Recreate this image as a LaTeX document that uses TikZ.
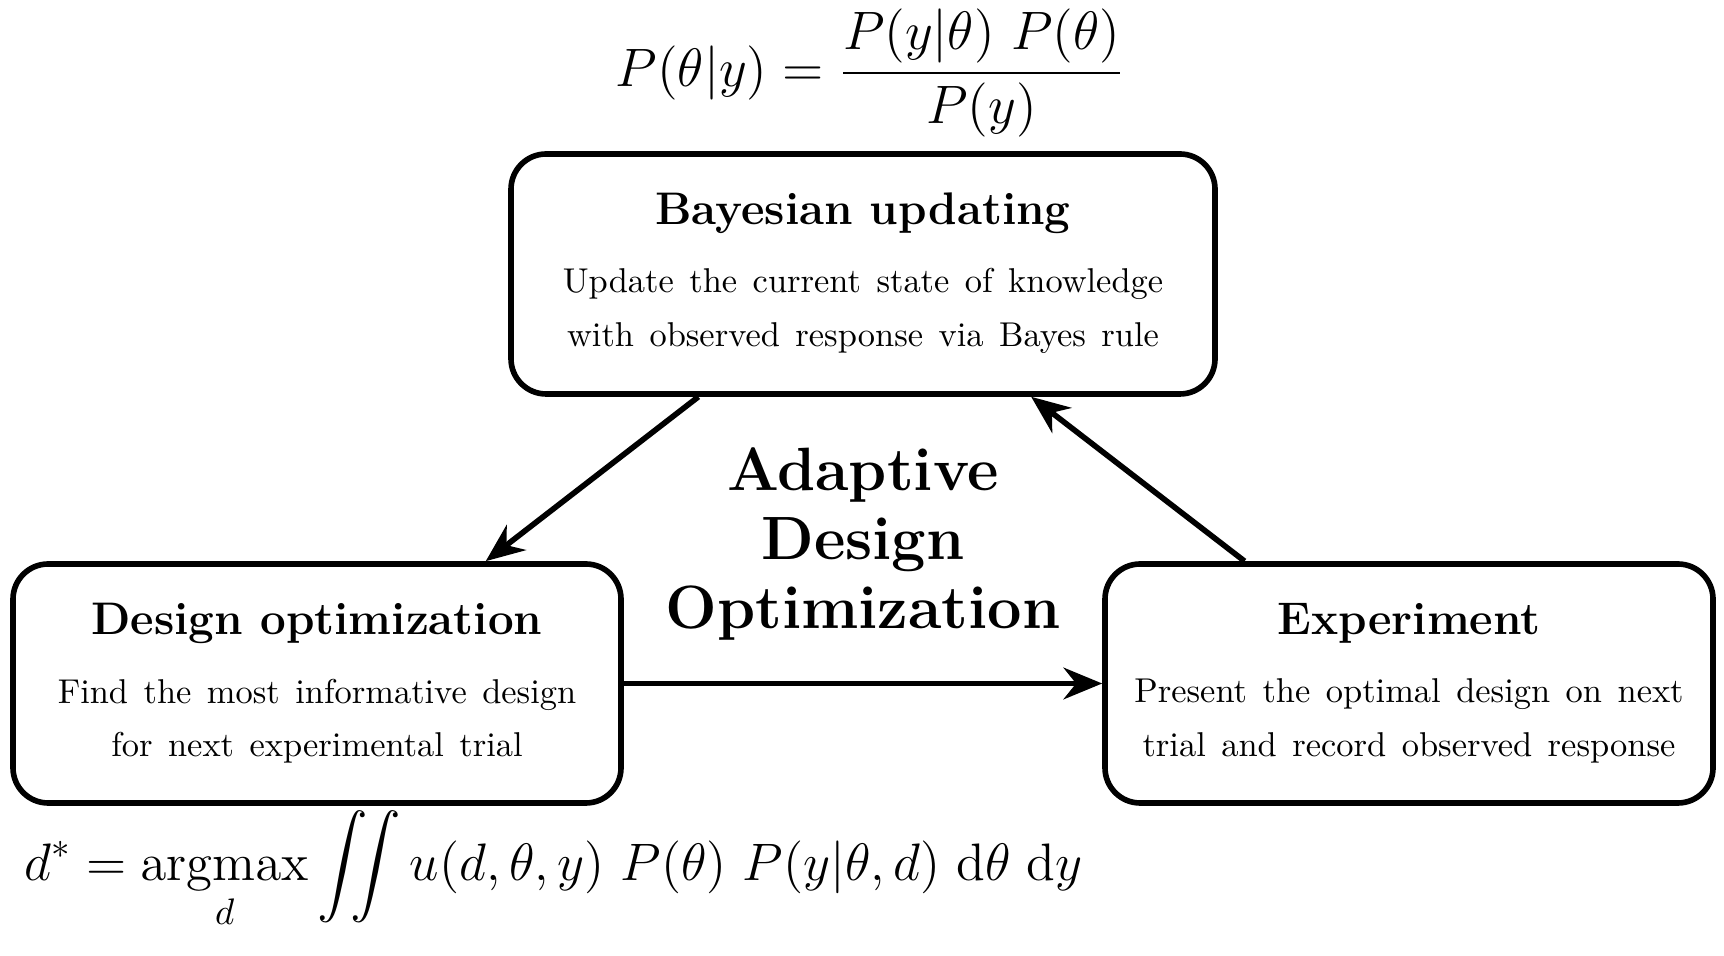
\RequirePackage{fix-cm}
\documentclass[tikz,border=0pt]{standalone}
\usepackage{amsmath}
\usepackage{tikz}
\usetikzlibrary{calc,arrows.meta}

\newcommand{\espancho}{\spaceskip=0.45em plus 0.1em\relax}

\tikzset{
  caja/.style={draw, line width=1.6pt, rounded corners=10pt, align=center},
  titulo/.style={font=\fontsize{13}{15}\selectfont\bfseries},
  cuerpo/.style={align=center, inner sep=1pt, font=\fontsize{9.8}{15.2}\selectfont\espancho},
  flecha/.style={line width=1.6pt, -{Stealth[length=11pt,width=9pt]}}
}

\begin{document}
\begin{tikzpicture}

    % Marco del dibujo
    \useasboundingbox (0,0) rectangle (17.24,9.56);

    % Caja superior
    \node[caja, minimum width=7.04cm, minimum height=2.40cm] (bayes) at (8.63,6.82) {};
    \node[titulo] (bayest) at (8.63,7.43) {Bayesian updating};
    \node[cuerpo] (bayesb) at (8.63,6.45)
      {Update the current state of knowledge\\with observed response via Bayes rule};

    % Caja izquierda
    \node[caja, minimum width=6.08cm, minimum height=2.39cm] (design) at (3.17,2.725) {};
    \node[titulo] (designt) at (3.17,3.33) {Design optimization};
    \node[cuerpo] (designb) at (3.17,2.35)
      {Find the most informative design\\for next experimental trial};

    % Caja derecha
    \node[caja, minimum width=6.08cm, minimum height=2.39cm] (exper) at (14.09,2.725) {};
    \node[titulo] (expert) at (14.09,3.33) {Experiment};
    \node[cuerpo] (experb) at (14.09,2.35)
      {Present the optimal design on next\\trial and record observed response};

    % Texto central
    \node[align=center, font=\fontsize{17.4}{19.6}\selectfont\bfseries] (adotxt) at (8.63,4.12)
      {Adaptive\\Design\\Optimization};

    % Flechas
    \draw[flecha] ($(bayes.south west)!0.268!(bayes.south east)$) -- ($(design.north west)!0.775!(design.north east)$);
    \draw[flecha] (design.east) -- (exper.west);
    \draw[flecha] ($(exper.north west)!0.232!(exper.north east)$) -- ($(bayes.south west)!0.737!(bayes.south east)$);

    % Ecuaciones
    \node[inner sep=0pt, font=\fontsize{15.4}{17}\selectfont] (bayeseq) at (8.70,8.83)
      {$\displaystyle P(\theta|y) = \frac{P(y|\theta)\ P(\theta)}{P(y)}$};
    \node[anchor=west, font=\fontsize{15}{17}\selectfont] (adoeq) at (0.12,0.86)
      {$\displaystyle d^* = \operatorname*{argmax}_d \iint u(d,\theta,y)\ P(\theta)\ P(y|\theta,d)\ \mathrm{d}\theta\ \mathrm{d}y$};

\end{tikzpicture}
\end{document}
